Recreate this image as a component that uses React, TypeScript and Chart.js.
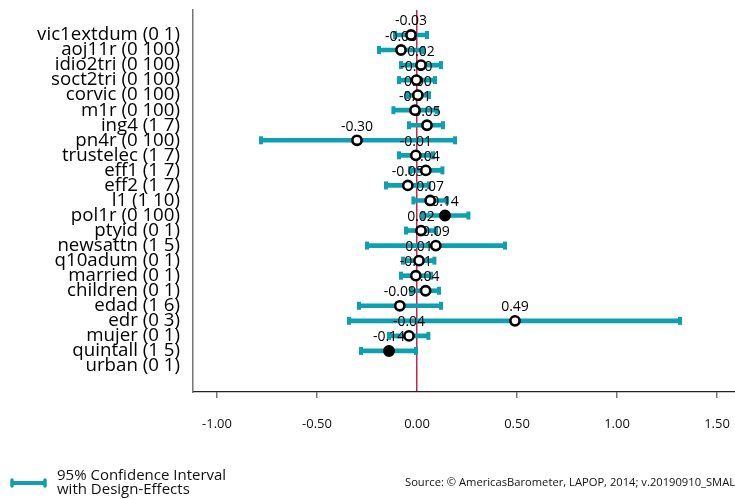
import React, { useEffect, useRef } from "react";
import { Chart, registerables } from "chart.js";

Chart.register(...registerables);

const rowLabels = [
  "vic1extdum (0 1)",
  "aoj11r (0 100)",
  "idio2tri (0 100)",
  "soct2tri (0 100)",
  "corvic (0 100)",
  "m1r (0 100)",
  "ing4 (1 7)",
  "pn4r (0 100)",
  "trustelec (1 7)",
  "eff1 (1 7)",
  "eff2 (1 7)",
  "l1 (1 10)",
  "pol1r (0 100)",
  "ptyid (0 1)",
  "newsattn (1 5)",
  "q10adum (0 1)",
  "married (0 1)",
  "children (0 1)",
  "edad (1 6)",
  "edr (0 3)",
  "mujer (0 1)",
  "quintall (1 5)",
  "urban (0 1)",
];
const coefs = [
  -0.03, -0.08, 0.02, -0.003, 0.004, -0.01, 0.05, -0.3, -0.006, 0.044, -0.046,
  0.066, 0.14, 0.02, 0.094, 0.01, -0.006, 0.043, -0.086, 0.49, -0.04, -0.14, null,
];
const ciLow = [
  -0.11, -0.19, -0.08, -0.09, -0.05, -0.118, -0.04, -0.78, -0.09, -0.035, -0.155,
  -0.018, 0.03, -0.055, -0.25, -0.07, -0.08, -0.03, -0.29, -0.34, -0.14, -0.28, null,
];
const ciHigh = [
  0.05, 0.03, 0.12, 0.09, 0.06, 0.1, 0.13, 0.19, 0.08, 0.127, 0.06, 0.15, 0.257,
  0.095, 0.44, 0.087, 0.07, 0.11, 0.12, 1.315, 0.057, -0.005, null,
];
const significant = [
  false, false, false, false, false, false, false, false, false, false, false,
  false, true, false, false, false, false, false, false, false, false, true, false,
];
const xTicks = [-1, -0.5, 0, 0.5, 1, 1.5];

const TEAL = "#0fa0b0";
const ZERO_RED = "#c8234f";
const FONT = "'Open Sans', 'Noto Sans', sans-serif";

const valueLabelPlugin = {
  id: "valueLabels",
  afterDatasetDraw(chart: any, args: any) {
    if (args.index !== 1) return;
    const { ctx, scales } = chart;
    ctx.save();
    ctx.font = `14px ${FONT}`;
    ctx.fillStyle = "#000";
    ctx.textAlign = "center";
    ctx.textBaseline = "middle";
    coefs.forEach((v, i) => {
      if (v == null) return;
      const px = scales.x.getPixelForValue(v);
      const py = scales.y.getPixelForValue(i);
      ctx.fillText(v.toFixed(2), px, py - 13.5);
    });
    ctx.restore();
  },
};

const footerPlugin = {
  id: "footer",
  afterDraw(chart: any) {
    const ctx = chart.ctx;
    ctx.save();
    ctx.strokeStyle = TEAL;
    ctx.lineWidth = 4;
    ctx.beginPath();
    ctx.moveTo(12, 483);
    ctx.lineTo(45, 483);
    ctx.stroke();
    ctx.lineWidth = 3.5;
    ctx.lineCap = "round";
    ctx.beginPath();
    ctx.moveTo(12, 480);
    ctx.lineTo(12, 486);
    ctx.moveTo(45, 480);
    ctx.lineTo(45, 486);
    ctx.stroke();
    ctx.fillStyle = "#111";
    ctx.textAlign = "left";
    ctx.textBaseline = "middle";
    ctx.font = `15px ${FONT}`;
    ctx.fillText("95% Confidence Interval", 57, 476);
    ctx.fillText("with Design-Effects", 57, 490);
    ctx.font = `11.2px ${FONT}`;
    ctx.fillText("Source: \u00a9 AmericasBarometer, LAPOP, 2014; v.20190910_SMALL", 405, 483);
    ctx.restore();
  },
};

export default function App() {
  const ref = useRef<HTMLCanvasElement | null>(null);

  useEffect(() => {
    if (!ref.current) return;
    const idx = rowLabels.map((_, i) => i).filter((i) => coefs[i] != null);
    const barData = idx.map((i) => ({ y: i, x: [ciLow[i], ciHigh[i]] }));
    const capData: any[] = [];
    idx.forEach((i) => {
      capData.push({ x: ciLow[i], y: i });
      capData.push({ x: ciHigh[i], y: i });
    });
    const hollow = idx.filter((i) => !significant[i]).map((i) => ({ x: coefs[i], y: i }));
    const filled = idx.filter((i) => significant[i]).map((i) => ({ x: coefs[i], y: i }));

    Chart.defaults.font.family = FONT;

    const chart = new Chart(ref.current, {
      type: "scatter",
      data: {
        datasets: [
          {
            type: "bar",
            indexAxis: "y",
            data: barData as any,
            backgroundColor: TEAL,
            barThickness: 4,
            grouped: false,
            order: 4,
          } as any,
          {
            type: "scatter",
            data: capData,
            pointStyle: "line",
            rotation: 90,
            radius: 4,
            borderWidth: 4,
            borderColor: TEAL,
            backgroundColor: TEAL,
            order: 3,
          } as any,
          {
            type: "scatter",
            data: hollow,
            pointStyle: "circle",
            radius: 4.6,
            borderWidth: 2.6,
            borderColor: "#000",
            backgroundColor: "#fff",
            order: 2,
          } as any,
          {
            type: "scatter",
            data: filled,
            pointStyle: "circle",
            radius: 5.2,
            borderWidth: 1.5,
            borderColor: "#000",
            backgroundColor: "#000",
            order: 1,
          } as any,
        ],
      },
      options: {
        responsive: false,
        animation: false,
        layout: { padding: { top: 10, right: 0, bottom: 0, left: 0 } },
        plugins: { legend: { display: false }, tooltip: { enabled: false } },
        scales: {
          x: {
            type: "linear",
            min: -1.12,
            max: 1.59,
            offset: false,
            afterBuildTicks: (s: any) => {
              s.ticks = xTicks.map((v) => ({ value: v }));
            },
            afterFit: (s: any) => {
              s.height = 107;
              s.paddingLeft = 0;
              s.paddingRight = 0;
            },
            grid: {
              offset: false,
              color: (c: any) => (c.tick && c.tick.value === 0 ? ZERO_RED : "transparent"),
              lineWidth: 1.5,
              drawTicks: true,
              tickLength: 6,
              tickColor: (c: any) => (c.tick && c.tick.value === 0 ? "transparent" : "#777"),
              tickWidth: 1.5,
            },
            border: { display: true, color: "#222", width: 1.2 },
            ticks: {
              padding: 18,
              color: "#111",
              font: { size: 13, family: FONT },
              callback: (v: any) => Number(v).toFixed(2),
            },
          },
          y: {
            type: "linear",
            reverse: true,
            min: -1.66,
            max: 23.73,
            offset: false,
            afterBuildTicks: (s: any) => {
              s.ticks = rowLabels.map((_, i) => ({ value: i }));
            },
            afterFit: (s: any) => {
              s.width = 193;
              s.paddingTop = 0;
              s.paddingBottom = 0;
            },
            grid: { offset: false, color: "transparent", drawTicks: false },
            border: { display: true, color: "#777", width: 1.5 },
            ticks: {
              autoSkip: false,
              padding: 13,
              color: "#000",
              font: { size: 18.7, family: FONT },
              callback: (v: any) => rowLabels[v] ?? "",
            },
          },
        },
      },
      plugins: [valueLabelPlugin, footerPlugin],
    } as any);

    return () => chart.destroy();
  }, []);

  return (
    <div
      style={{
        position: "fixed",
        left: 0,
        top: 0,
        width: 735,
        height: 499,
        overflow: "hidden",
        background: "#fff",
      }}
    >
      <canvas ref={ref} width={743} height={499} style={{ display: "block" }} />
    </div>
  );
}
